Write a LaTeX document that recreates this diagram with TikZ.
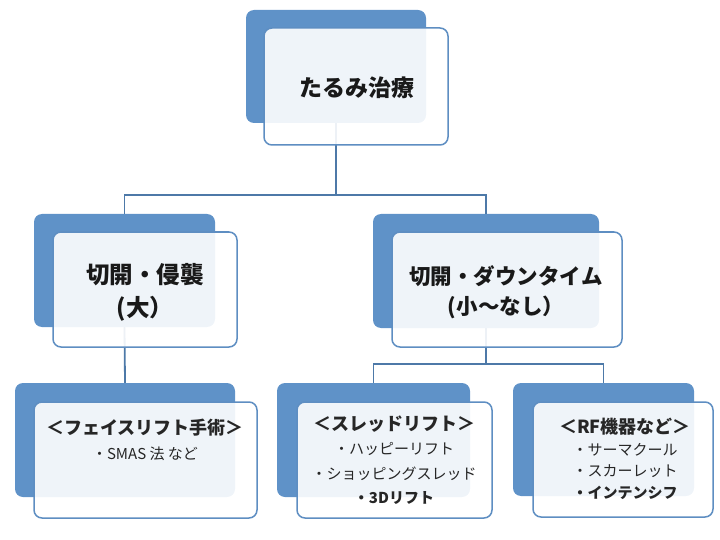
\documentclass[tikz,border=0pt]{standalone}
\usepackage{fontspec}
\setmainfont{Noto Sans CJK JP}
\usetikzlibrary{positioning,calc}
\definecolor{accent}{HTML}{5F92C8}
\definecolor{edgeblue}{HTML}{4D79A8}
\definecolor{frameblue}{HTML}{5E8EC2}

\begin{document}
\begin{tikzpicture}[x=1pt, y=-1pt,
	backbox/.style={rectangle, rounded corners=8pt, fill=accent, inner sep=0pt},
	frontbox/.style={rectangle, rounded corners=8pt, draw=frameblue, line width=1.5pt, fill=white, fill opacity=0.9, inner sep=0pt},
	link/.style={draw=edgeblue, line width=1.8pt},
	toplabel/.style={font=\fontsize{23}{30}\selectfont\bfseries, text=black!90},
	midlabel/.style={text=black!90, align=center},
	leaflabel/.style={text=black!85, align=center, inner sep=0pt}]
	\useasboundingbox (0,0) rectangle (720,540);

	% back boxes
	\node[backbox, minimum width=180pt, minimum height=113pt] (b0) at (336,66.5) {};
	\node[backbox, minimum width=181pt, minimum height=113pt] (b1) at (124.5,270.5) {};
	\node[backbox, minimum width=226pt, minimum height=114pt] (b2) at (486,271) {};
	\node[backbox, minimum width=220pt, minimum height=114pt] (b3) at (125,440) {};
	\node[backbox, minimum width=193pt, minimum height=114pt] (b4) at (373.5,440) {};
	\node[backbox, minimum width=181pt, minimum height=113pt] (b5) at (603.5,439.5) {};

	% connectors
	\coordinate (j0) at (336,195);
	\coordinate (j1) at (486,364);
	\draw[link] (b0.south) -- (j0) -| (b1.north);
	\draw[link] (j0) -| (b2.north);
	\draw[link] (b1.south) -- (b3.north);
	\draw[link] (b2.south) -- (j1) -| (b4.north);
	\draw[link] (j1) -| (b5.north);

	% front boxes
	\node[frontbox, minimum width=184pt, minimum height=117pt] (f0) at (356,86.5) {};
	\node[frontbox, minimum width=184pt, minimum height=115pt] (f1) at (145,289.5) {};
	\node[frontbox, minimum width=230pt, minimum height=115pt] (f2) at (507,289.5) {};
	\node[frontbox, minimum width=223pt, minimum height=116pt] (f3) at (145.5,460) {};
	\node[frontbox, minimum width=195pt, minimum height=116pt] (f4) at (394.5,460) {};
	\node[frontbox, minimum width=180pt, minimum height=115pt] (f5) at (623,459.5) {};

	% texts
	\node[toplabel] (t0) at (357,88) {たるみ治療};
	\node[midlabel, font=\fontsize{23.5}{33}\selectfont\bfseries] (t1) at (145,292.5) {切開・侵襲\\(大）};
	\node[midlabel, font=\fontsize{21.5}{30}\selectfont\bfseries] (t2) at (506,292) {切開・ダウンタイム\\(小〜なし）};
	\node[leaflabel, font=\fontsize{15}{25}\selectfont] (t3) at (145,440)
		{{\fontsize{18}{25}\selectfont\bfseries ＜フェイスリフト手術＞}\\・SMAS 法 など};
	\node[leaflabel, font=\fontsize{15}{24.5}\selectfont] (t4) at (394,460)
		{{\fontsize{18}{24.5}\selectfont\bfseries ＜スレッドリフト＞}\\・ハッピーリフト\\・ショッピングスレッド\\{\bfseries ・3Dリフト}};
	\node[leaflabel, font=\fontsize{15}{21.5}\selectfont] (t5) at (625,459)
		{{\fontsize{18}{21.5}\selectfont\bfseries ＜RF機器など＞}\\・サーマクール\\・スカーレット\\{\bfseries ・インテンシフ}};
\end{tikzpicture}
\end{document}
